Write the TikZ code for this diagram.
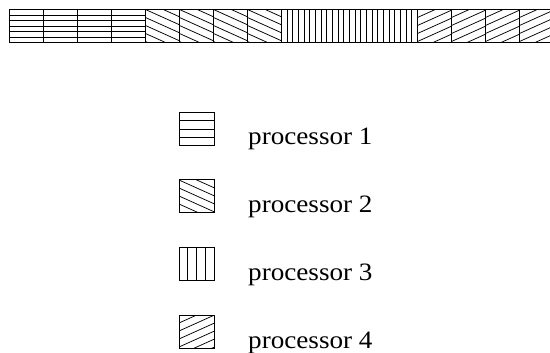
\documentclass[tikz,border=0pt]{standalone}
\usepackage{fontspec}
\setmainfont{Liberation Serif}
\tikzset{
  cellborder/.style={draw=black, line width=1.0pt},
  hatch/.style={draw=black, line width=0.75pt},
  lbl/.style={anchor=base west, inner sep=0pt, xscale=1.085, font=\fontsize{25}{29}\selectfont},
}
% horizontal stripes: x y w h nstrips-1 spacing
\newcommand{\cellHor}[6]{%
  \foreach \k in {1,...,#5} {\draw[hatch] (#1,{#2+\k*#6}) -- ++(#3,0);}
  \draw[cellborder] (#1,#2) rectangle ++(#3,#4);
}
% vertical stripes: x y w h nstrips-1 spacing
\newcommand{\cellVer}[6]{%
  \foreach \k in {1,...,#5} {\draw[hatch] ({#1+\k*#6},#2) -- ++(0,#4);}
  \draw[cellborder] (#1,#2) rectangle ++(#3,#4);
}
% diagonal stripes: x y w h slope spacing
\newcommand{\cellDiag}[6]{%
  \begin{scope}
    \clip (#1,#2) rectangle ++(#3,#4);
    \foreach \k in {-9,...,9} {\draw[hatch] (#1,{#2+\k*#6}) -- ++(#3,{#5*#3});}
  \end{scope}
  \draw[cellborder] (#1,#2) rectangle ++(#3,#4);
}
\begin{document}
\begin{tikzpicture}[x=1pt,y=-1pt]
\useasboundingbox (0,0) rectangle (550,353);
% bar
\foreach \i in {0,...,3} {\cellHor{9.5+\i*34}{9.5}{34}{33.5}{5}{5.583}}
\foreach \i in {4,...,7} {\cellDiag{9.5+\i*34}{9.5}{34}{33.5}{0.45}{8}}
\foreach \i in {8,...,11} {\cellVer{9.5+\i*34}{9.5}{34}{33.5}{5}{5.667}}
\foreach \i in {12,...,15} {\cellDiag{9.5+\i*34}{9.5}{34}{33.5}{-0.45}{8}}
% legend
\cellHor{179}{112.5}{35}{33}{3}{8.25}
\cellDiag{179}{180}{35}{33}{0.45}{8}
\cellVer{179}{247.5}{35}{33}{3}{8.75}
\cellDiag{179}{315}{35}{33}{-0.45}{8}
\node[lbl] (p1) at (248,145) {processor 1};
\node[lbl] (p2) at (248,212.5) {processor 2};
\node[lbl] (p3) at (248,280.5) {processor 3};
\node[lbl] (p4) at (248,348) {processor 4};
\end{tikzpicture}
\end{document}
